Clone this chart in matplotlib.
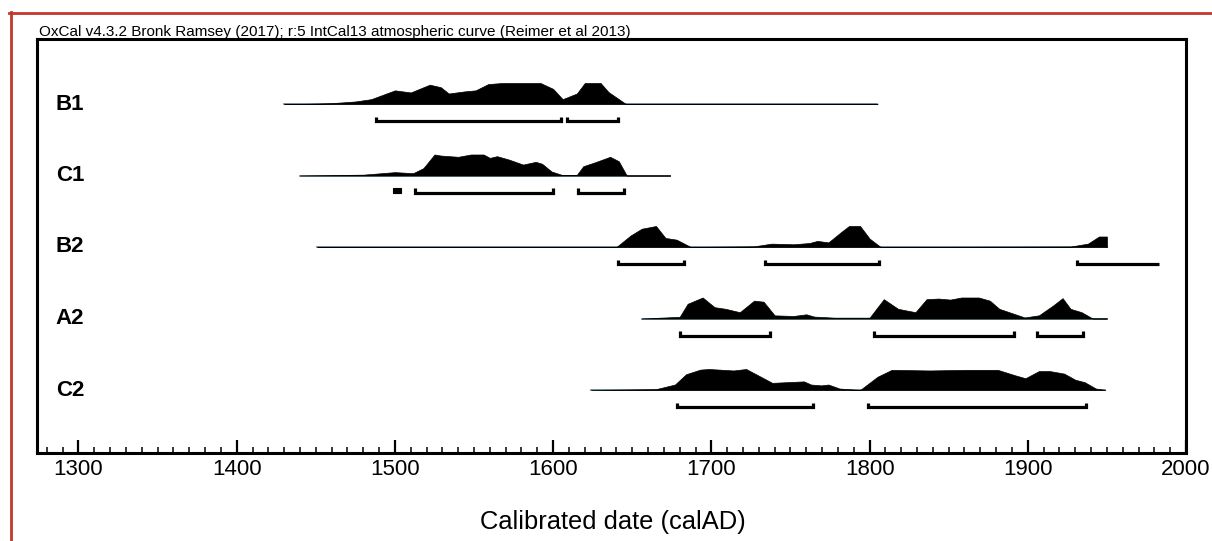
import matplotlib
matplotlib.use("Agg")
import matplotlib.pyplot as plt
from matplotlib.lines import Line2D
from matplotlib.ticker import MultipleLocator

plt.rcParams['font.family'] = ['Liberation Sans', 'DejaVu Sans']

# ---------------- data ----------------
samples = ["B1", "C1", "B2", "A2", "C2"]

B1_years = [1430, 1445, 1460, 1475, 1485, 1500, 1510, 1522, 1529, 1534, 1544, 1551, 1559, 1568,
            1592, 1600, 1606, 1615, 1620, 1630, 1635, 1646, 1805]
B1_dens = [0, 0.01, 0.04, 0.12, 0.23, 0.65, 0.55, 0.92, 0.8, 0.5, 0.6, 0.65, 0.95, 1.0,
           1.0, 0.72, 0.23, 0.5, 1.0, 1.0, 0.57, 0, 0]
B1_ranges = [(1488, 1605), (1609, 1641)]

C1_years = [1440, 1480, 1500, 1511.5, 1518, 1525, 1529, 1540, 1548, 1556, 1560, 1564.5, 1572,
            1581, 1589, 1593, 1599, 1605.5, 1615, 1619, 1626.5, 1636, 1641.5, 1646.5, 1674]
C1_dens = [0, 0.04, 0.16, 0.11, 0.35, 1.0, 0.95, 0.89, 1.0, 1.0, 0.84, 0.92, 0.76,
           0.52, 0.65, 0.56, 0.19, 0.03, 0.03, 0.44, 0.63, 0.89, 0.68, 0.0, 0]
C1_ranges = [(1499, 1504), (1513, 1600), (1616, 1645)]

B2_years = [1451, 1640, 1649, 1656, 1665, 1671, 1678, 1687, 1727, 1738, 1752, 1762, 1767, 1774,
            1782, 1787, 1794, 1800, 1807, 1927, 1938, 1945, 1950, 1950.1]
B2_dens = [0, 0, 0.55, 0.87, 1.0, 0.43, 0.35, 0, 0.03, 0.16, 0.13, 0.19, 0.29, 0.22,
           0.71, 1.0, 1.0, 0.4, 0, 0.02, 0.16, 0.5, 0.5, 0]
B2_ranges = [(1641, 1683), (1734, 1806), (1931, 1983)]

A2_years = [1656, 1680, 1685, 1694.5, 1702, 1709, 1718, 1727, 1733, 1740, 1752, 1760, 1765, 1778,
            1800, 1809, 1818, 1829, 1836, 1843.5, 1851, 1858, 1869, 1876, 1882, 1891, 1898, 1907,
            1916, 1922, 1927, 1934, 1941, 1950]
A2_dens = [0, 0.08, 0.7, 1.0, 0.54, 0.46, 0.3, 0.85, 0.8, 0.15, 0.12, 0.2, 0.09, 0.04,
           0.04, 0.92, 0.46, 0.3, 0.92, 0.95, 0.9, 1.0, 1.0, 0.85, 0.46, 0.23, 0.05, 0.15,
           0.62, 0.97, 0.46, 0.3, 0, 0]
A2_ranges = [(1680, 1737), (1803, 1891), (1906, 1935)]

C2_years = [1624, 1665, 1677, 1684, 1693, 1698.5, 1714, 1722, 1730, 1738.5, 1758.5, 1763, 1769.5,
            1774, 1781, 1794, 1805, 1814, 1838, 1861, 1881, 1892, 1898.5, 1907, 1914, 1923, 1930,
            1936, 1943, 1949]
C2_dens = [0, 0.04, 0.26, 0.75, 0.97, 1.0, 0.93, 1.0, 0.68, 0.34, 0.41, 0.26, 0.22,
           0.26, 0.07, 0, 0.63, 0.96, 0.93, 0.96, 0.96, 0.7, 0.56, 0.9, 0.9, 0.78, 0.49,
           0.37, 0.07, 0]
C2_ranges = [(1678, 1764), (1799, 1937)]

years_list = [B1_years, C1_years, B2_years, A2_years, C2_years]
dens_list = [B1_dens, C1_dens, B2_dens, A2_dens, C2_dens]
ranges_list = [B1_ranges, C1_ranges, B2_ranges, A2_ranges, C2_ranges]
open_right = {(2, 2)}  # B2 last range has no right cap

title = "OxCal v4.3.2 Bronk Ramsey (2017); r:5 IntCal13 atmospheric curve (Reimer et al 2013)"
xlabel = "Calibrated date (calAD)"
x_ticks = [1300, 1400, 1500, 1600, 1700, 1800, 1900, 2000]

# ---------------- figure ----------------
W, H = 1212, 541
fig = plt.figure(figsize=(W / 100, H / 100), dpi=100)
ax = fig.add_axes([36.7 / W, 1 - 453 / H, (1186 - 36.7) / W, (453 - 39) / H])

row_px = 71.5
peak = 21 / row_px
brk_off = 17 / row_px
cap = 4.5 / row_px

for i, (yrs, dens, rngs, name) in enumerate(zip(years_list, dens_list, ranges_list, samples)):
    base = i
    top = [base - d * peak for d in dens]
    ax.plot([yrs[0], yrs[-1]], [base, base], color='#4a6d7a', lw=1.1, zorder=2)
    ax.fill_between(yrs, [base] * len(yrs), top, color='black', lw=0.5, zorder=3)
    yb = base + brk_off
    for j, (a, b) in enumerate(rngs):
        if b - a < 8:
            ax.fill_between([a, b], [yb + 0.012] * 2, [yb - cap] * 2, color='black',
                            lw=0.8, zorder=3)
            continue
        if (i, j) in open_right:
            xs, ys = [a, a, b], [yb - cap, yb, yb]
        else:
            xs, ys = [a, a, b, b], [yb - cap, yb, yb, yb - cap]
        ax.plot(xs, ys, color='black', lw=2.3, solid_capstyle='butt',
                solid_joinstyle='miter', zorder=3)
    ax.text(0.0165, base, name, transform=ax.get_yaxis_transform(), fontsize=16,
            fontweight='bold', va='center', ha='left', color='black')

ax.set_xlim(1273.6, 2000)
ax.set_ylim(4 + 63 / row_px, -65 / row_px)
ax.set_yticks([])
ax.set_xticks(x_ticks)
ax.set_xticklabels([str(t) for t in x_ticks], fontsize=16)
ax.xaxis.set_minor_locator(MultipleLocator(10))
ax.tick_params(axis='x', which='major', direction='in', length=9.5, width=1.6, pad=4)
ax.tick_params(axis='x', which='minor', direction='in', length=4.5, width=1.1)
for s in ax.spines.values():
    s.set_linewidth(2.2)
    s.set_color('black')

fig.text(39 / W, 1 - 36 / H, title, fontsize=11, ha='left', va='baseline')
fig.text(613 / W, 1 - 522 / H, xlabel, fontsize=18.4, ha='center', va='center')

# red scan border
red = '#c4372d'
fig.add_artist(Line2D([9 / W, 1.0], [1 - 13 / H, 1 - 13 / H], transform=fig.transFigure,
                      color=red, lw=2.0))
fig.add_artist(Line2D([10.5 / W, 10.5 / W], [1 - 12 / H, 0.0], transform=fig.transFigure,
                      color=red, lw=2.0))

fig.savefig("out.png", dpi=100)
